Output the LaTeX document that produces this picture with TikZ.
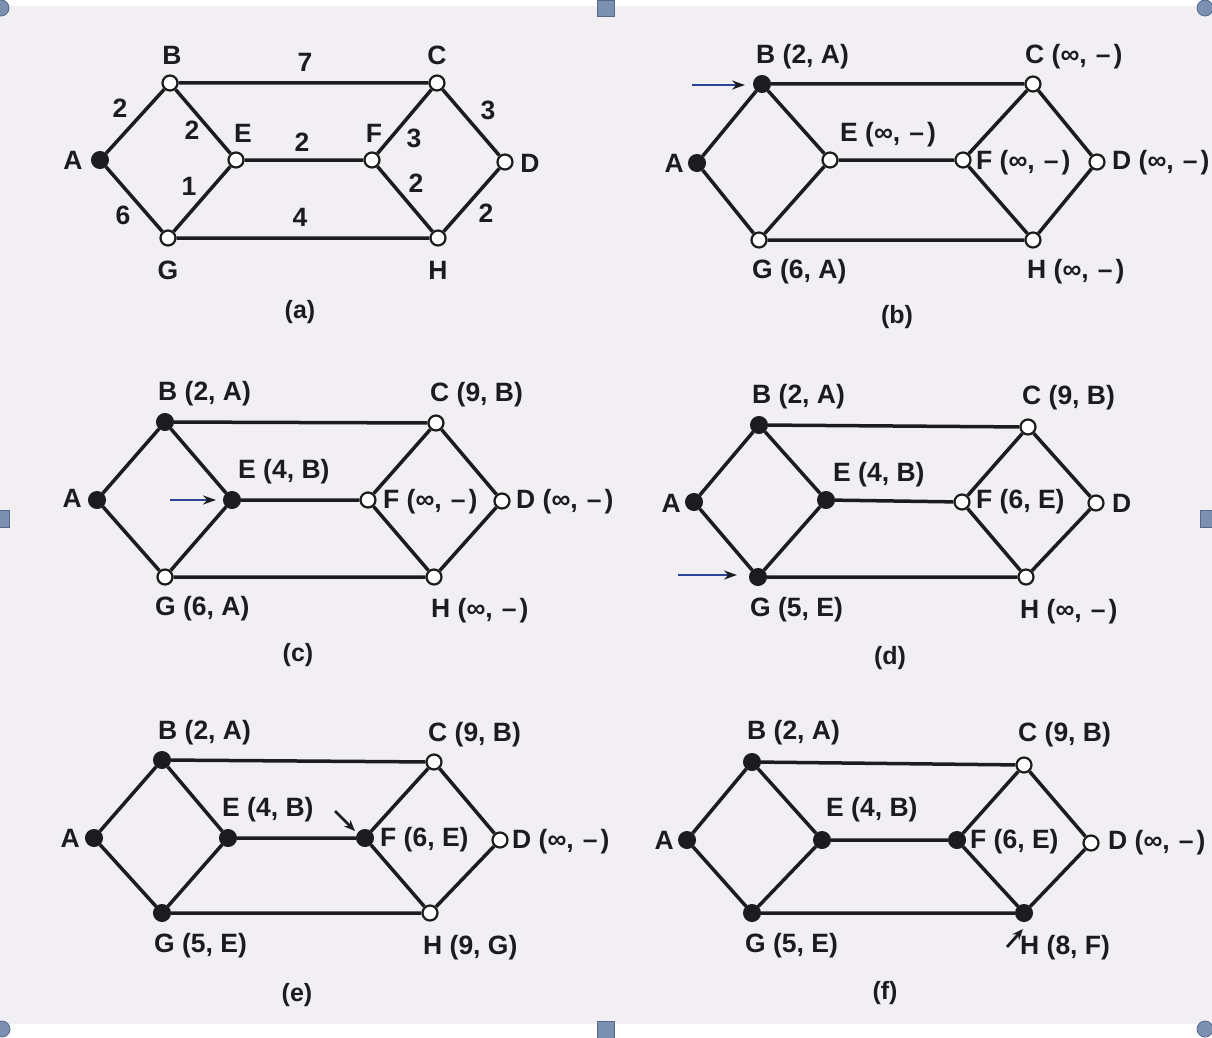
\documentclass[tikz,border=0pt]{standalone}
\usepackage{fontspec}
\setmainfont{Liberation Sans}
\usetikzlibrary{arrows.meta}
\definecolor{paper}{RGB}{241,239,241}
\definecolor{ink}{RGB}{28,28,30}
\definecolor{handle}{RGB}{124,144,178}
\definecolor{handleedge}{RGB}{86,104,138}
\definecolor{arrowblue}{RGB}{44,66,150}
\newcommand\unreach{(∞,\kern9pt–\kern3pt)}
\tikzset{
  hollow/.style={circle,draw=ink,fill=white,line width=2.2pt,minimum size=15pt,inner sep=0pt},
  shut/.style={circle,draw=ink,fill=ink,line width=1pt,minimum size=17pt,inner sep=0pt},
  link/.style={draw=ink,line width=3.5pt},
  lbl/.style={font=\fontsize{26.5}{30}\selectfont\bfseries,text=ink,inner sep=0pt},
  wt/.style={font=\fontsize{26.5}{30}\selectfont\bfseries,text=ink,inner sep=0pt},
  panelcap/.style={font=\fontsize{25}{30}\selectfont\bfseries,text=ink,inner sep=0pt},
  pointer/.style={draw=arrowblue,line width=2.8pt,-{Stealth[color=ink,length=13pt,width=9pt]}},
  blackpointer/.style={draw=ink,line width=2.8pt,-{Stealth[color=ink,length=11pt,width=9pt]}},
  grip/.style={fill=handle,draw=handleedge,line width=0.8pt}
}
\newcommand\alledges[1]{%
  \draw[link] (#1A)--(#1B) (#1A)--(#1G) (#1B)--(#1C) (#1B)--(#1E) (#1E)--(#1G)
    (#1E)--(#1F) (#1G)--(#1H) (#1C)--(#1F) (#1F)--(#1H) (#1C)--(#1D) (#1D)--(#1H);}
\begin{document}
\begin{tikzpicture}[x=1pt,y=-1pt]
\useasboundingbox (0,0) rectangle (1212,1038);
\fill[white] (0,0) rectangle (1212,1038);
\fill[paper] (0,6) rectangle (1212,1024);

% ---------------- (a)
\node[shut] (aA) at (100,160) {};
\node[hollow] (aB) at (170,83) {};
\node[hollow] (aC) at (437,83) {};
\node[hollow] (aE) at (236,160) {};
\node[hollow] (aF) at (372,160) {};
\node[hollow] (aD) at (505,162) {};
\node[hollow] (aG) at (168,238) {};
\node[hollow] (aH) at (438,238) {};
\alledges{a}
\node[lbl] (aAl) at (73,160) {A};
\node[lbl] (aBl) at (172,55) {B};
\node[lbl] (aCl) at (437,55) {C};
\node[lbl] (aEl) at (243,133) {E};
\node[lbl] (aFl) at (374,133) {F};
\node[lbl] (aDl) at (530,163) {D};
\node[lbl] (aGl) at (168,270) {G};
\node[lbl] (aHl) at (438,270) {H};
\node[wt] (w1) at (305,62) {7};
\node[wt] (w2) at (120,108) {2};
\node[wt] (w3) at (192,130) {2};
\node[wt] (w4) at (302,142) {2};
\node[wt] (w5) at (414,138) {3};
\node[wt] (w6) at (488,110) {3};
\node[wt] (w7) at (189,186) {1};
\node[wt] (w8) at (416,183) {2};
\node[wt] (w9) at (123,215) {6};
\node[wt] (w10) at (300,217) {4};
\node[wt] (w11) at (486,213) {2};
\node[panelcap] (capa) at (300,312) {(a)};

% ---------------- (b)
\node[shut] (bA) at (697,163) {};
\node[shut] (bB) at (762,84) {};
\node[hollow] (bC) at (1033,84) {};
\node[hollow] (bE) at (830,160) {};
\node[hollow] (bF) at (963,160) {};
\node[hollow] (bD) at (1097,162) {};
\node[hollow] (bG) at (759,240) {};
\node[hollow] (bH) at (1033,240) {};
\alledges{b}
\node[lbl,anchor=east] (bAl) at (684,163) {A};
\node[lbl,anchor=west] (bBl) at (756,57) {B (2, A)};
\node[lbl,anchor=west] (bCl) at (1025,57) {C \unreach};
\node[lbl,anchor=west] (bEl) at (840,135) {E \unreach};
\node[lbl,anchor=west] (bFl) at (976,163) {F \unreach};
\node[lbl,anchor=west] (bDl) at (1112,163) {D \unreach};
\node[lbl,anchor=west] (bGl) at (752,272) {G (6, A)};
\node[lbl,anchor=west] (bHl) at (1027,272) {H \unreach};
\coordinate (bs) at (692,85);
\coordinate (bt) at (745,85);
\draw[pointer] (bs) -- (bt);
\node[panelcap] (capb) at (897,317) {(b)};

% ---------------- (c)
\node[shut] (cA) at (97,500) {};
\node[shut] (cB) at (165,422) {};
\node[hollow] (cC) at (436,423) {};
\node[shut] (cE) at (232,500) {};
\node[hollow] (cF) at (368,500) {};
\node[hollow] (cD) at (502,501) {};
\node[hollow] (cG) at (165,577) {};
\node[hollow] (cH) at (434,577) {};
\alledges{c}
\node[lbl,anchor=east] (cAl) at (82,498) {A};
\node[lbl,anchor=west] (cBl) at (158,394) {B (2, A)};
\node[lbl,anchor=west] (cCl) at (430,395) {C (9, B)};
\node[lbl,anchor=west] (cEl) at (238,472) {E (4, B)};
\node[lbl,anchor=west] (cFl) at (383,502) {F \unreach};
\node[lbl,anchor=west] (cDl) at (516,502) {D \unreach};
\node[lbl,anchor=west] (cGl) at (155,609) {G (6, A)};
\node[lbl,anchor=west] (cHl) at (431,611) {H \unreach};
\coordinate (cs) at (170,500);
\coordinate (ct) at (216,500);
\draw[pointer] (cs) -- (ct);
\node[panelcap] (capc) at (298,655) {(c)};

% ---------------- (d)
\node[shut] (dA) at (694,502) {};
\node[shut] (dB) at (759,425) {};
\node[hollow] (dC) at (1028,427) {};
\node[shut] (dE) at (826,500) {};
\node[hollow] (dF) at (962,502) {};
\node[hollow] (dD) at (1096,503) {};
\node[shut] (dG) at (758,577) {};
\node[hollow] (dH) at (1026,577) {};
\alledges{d}
\node[lbl,anchor=east] (dAl) at (681,503) {A};
\node[lbl,anchor=west] (dBl) at (752,397) {B (2, A)};
\node[lbl,anchor=west] (dCl) at (1022,398) {C (9, B)};
\node[lbl,anchor=west] (dEl) at (833,475) {E (4, B)};
\node[lbl,anchor=west] (dFl) at (976,502) {F (6, E)};
\node[lbl,anchor=west] (dDl) at (1112,503) {D};
\node[lbl,anchor=west] (dGl) at (750,610) {G (5, E)};
\node[lbl,anchor=west] (dHl) at (1020,612) {H \unreach};
\coordinate (ds) at (678,575);
\coordinate (dt) at (737,575);
\draw[pointer] (ds) -- (dt);
\node[panelcap] (capd) at (890,658) {(d)};

% ---------------- (e)
\node[shut] (eA) at (94,838) {};
\node[shut] (eB) at (162,760) {};
\node[hollow] (eC) at (434,762) {};
\node[shut] (eE) at (228,838) {};
\node[shut] (eF) at (365,838) {};
\node[hollow] (eD) at (500,840) {};
\node[shut] (eG) at (162,913) {};
\node[hollow] (eH) at (430,913) {};
\alledges{e}
\node[lbl,anchor=east] (eAl) at (80,838) {A};
\node[lbl,anchor=west] (eBl) at (158,733) {B (2, A)};
\node[lbl,anchor=west] (eCl) at (428,735) {C (9, B)};
\node[lbl,anchor=west] (eEl) at (222,810) {E (4, B)};
\node[lbl,anchor=west] (eFl) at (380,840) {F (6, E)};
\node[lbl,anchor=west] (eDl) at (512,842) {D \unreach};
\node[lbl,anchor=west] (eGl) at (154,946) {G (5, E)};
\node[lbl,anchor=west] (eHl) at (423,948) {H (9, G)};
\coordinate (es) at (335,811);
\coordinate (et) at (355,831);
\draw[blackpointer] (es) -- (et);
\node[panelcap] (cape) at (297,995) {(e)};

% ---------------- (f)
\node[shut] (fA) at (687,840) {};
\node[shut] (fB) at (752,762) {};
\node[hollow] (fC) at (1024,765) {};
\node[shut] (fE) at (822,840) {};
\node[shut] (fF) at (957,840) {};
\node[hollow] (fD) at (1091,843) {};
\node[shut] (fG) at (752,913) {};
\node[shut] (fH) at (1024,913) {};
\alledges{f}
\node[lbl,anchor=east] (fAl) at (674,840) {A};
\node[lbl,anchor=west] (fBl) at (747,733) {B (2, A)};
\node[lbl,anchor=west] (fCl) at (1018,735) {C (9, B)};
\node[lbl,anchor=west] (fEl) at (826,810) {E (4, B)};
\node[lbl,anchor=west] (fFl) at (970,842) {F (6, E)};
\node[lbl,anchor=west] (fDl) at (1108,843) {D \unreach};
\node[lbl,anchor=west] (fGl) at (745,946) {G (5, E)};
\node[lbl,anchor=west] (fHl) at (1020,948) {H (8, F)};
\coordinate (fs) at (1007,947);
\coordinate (ft) at (1023,929);
\draw[blackpointer] (fs) -- (ft);
\node[panelcap] (capf) at (885,993) {(f)};

% ---------------- selection handles
\draw[grip] (1,8) circle (8);
\draw[grip] (1205,8) circle (8);
\draw[grip] (2,1029) circle (8);
\draw[grip] (1205,1029) circle (8);
\draw[grip] (597,0) rectangle (614,16);
\draw[grip] (597,1021) rectangle (614,1038);
\draw[grip] (-4,510) rectangle (9,527);
\draw[grip] (1200,510) rectangle (1213,527);
\end{tikzpicture}
\end{document}
